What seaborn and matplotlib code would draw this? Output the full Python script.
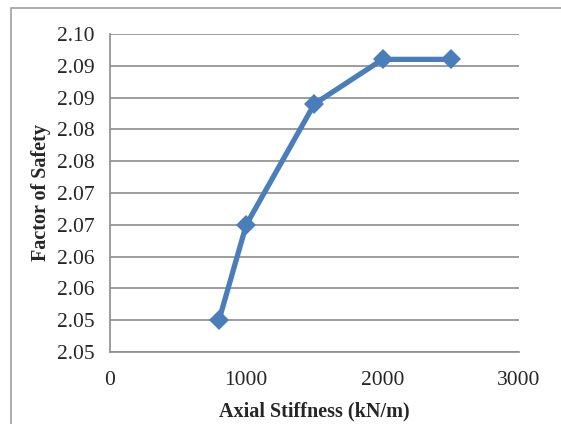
import matplotlib
matplotlib.use("Agg")
import matplotlib.pyplot as plt
import seaborn as sns
import pandas as pd
from matplotlib.patches import Rectangle

# Factor of safety vs axial stiffness
stiffness = [800, 1000, 1500, 2000, 2500]
fos = [2.050, 2.065, 2.084, 2.091, 2.091]
ytick_values = [2.045, 2.050, 2.055, 2.060, 2.065, 2.070, 2.075, 2.080, 2.085, 2.090, 2.095]
ytick_labels = ["2.05", "2.05", "2.06", "2.06", "2.07", "2.07", "2.08", "2.08", "2.09", "2.09", "2.10"]
xtick_values = [0, 1000, 2000, 3000]

df = pd.DataFrame({"stiffness": stiffness, "fos": fos})

sns.set_style("white")
plt.rcParams["font.family"] = ["Liberation Serif", "DejaVu Serif"]

fig = plt.figure(figsize=(5.61, 4.24), dpi=100)
ax = fig.add_axes([0.196, 0.170, 0.729, 0.750])

sns.lineplot(data=df, x="stiffness", y="fos", ax=ax, color="#4A7EBB",
             linewidth=3.8, marker="D", markersize=10, markeredgewidth=0,
             zorder=3)

ax.set_xlim(0, 3000)
ax.set_ylim(2.045, 2.095)
ax.set_xticks(xtick_values)
ax.set_xticklabels([str(v) for v in xtick_values])
ax.set_yticks(ytick_values)
ax.set_yticklabels(ytick_labels)

grid_c = "#8C8C8C"
ax.grid(axis="y", color=grid_c, linewidth=1.2)
ax.set_axisbelow(True)
for side in ["top", "right"]:
    ax.spines[side].set_visible(False)
for side in ["left", "bottom"]:
    ax.spines[side].set_color(grid_c)
    ax.spines[side].set_linewidth(1.2)

ax.tick_params(axis="both", direction="out", width=1.2, color=grid_c, labelsize=15.5)
ax.tick_params(axis="y", length=3, pad=8)
ax.tick_params(axis="x", length=5, pad=9)
ax.set_xlabel("Axial Stiffness (kN/m)", fontsize=14.5, fontweight="bold", labelpad=8)
ax.set_ylabel("Factor of Safety", fontsize=14.5, fontweight="bold", labelpad=4)

# chart area border (only top/left are inside the picture)
fig.patches.append(Rectangle((11 / 561, -0.05), 1.0, 1.05 - 8 / 424,
                             transform=fig.transFigure, fill=False,
                             edgecolor="#A0A0A0", linewidth=1.2))

fig.savefig("out.png", dpi=100)
